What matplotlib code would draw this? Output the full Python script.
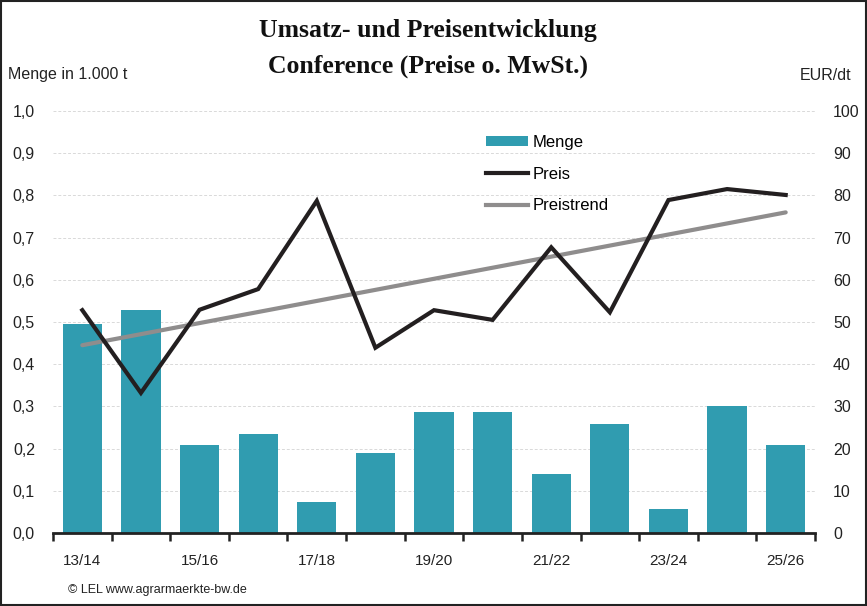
import numpy as np
import matplotlib
matplotlib.use("Agg")
import matplotlib.pyplot as plt
from matplotlib.patches import Patch
from matplotlib.lines import Line2D

seasons = ["13/14", "14/15", "15/16", "16/17", "17/18", "18/19", "19/20",
           "20/21", "21/22", "22/23", "23/24", "24/25", "25/26"]
menge = [0.495, 0.528, 0.208, 0.234, 0.073, 0.189, 0.286,
         0.286, 0.139, 0.258, 0.058, 0.300, 0.208]
preis = [52.8, 33.2, 52.9, 57.8, 78.7, 43.9, 52.8,
         50.5, 67.7, 52.3, 78.9, 81.5, 80.1]

left_ticks = [f"{v:.1f}".replace(".", ",") for v in np.arange(0, 1.01, 0.1)]
right_ticks = [str(v) for v in range(0, 101, 10)]

bar_color = "#309CB0"
line_color = "#231F20"
trend_color = "#8F8D8D"
sans = ["Liberation Sans", "DejaVu Sans"]
serif = ["Liberation Serif", "DejaVu Serif"]

plt.rcParams["font.family"] = sans

fig = plt.figure(figsize=(8.67, 6.06), dpi=100)
ax = fig.add_axes([53 / 867, 1 - 533 / 606, (815 - 53) / 867, (533 - 111) / 606])

x = np.arange(len(seasons))
ax.bar(x, menge, width=0.67, color=bar_color, zorder=2)
ax.set_xlim(-0.5, len(seasons) - 0.5)
ax.set_ylim(0, 1.0)
ax.set_yticks(np.arange(0, 1.01, 0.1))
ax.set_yticklabels(left_ticks, fontsize=11.5, color="#222222")
ax.yaxis.grid(True, color="#D9D9D9", linestyle=(0, (3, 2)), linewidth=0.7, zorder=0)
ax.set_axisbelow(True)
ax.tick_params(axis="y", length=0, pad=13)

ax.set_xticks(x[::2])
ax.set_xticklabels(seasons[::2], fontsize=11, color="#222222")
ax.set_xticks(np.arange(-0.5, len(seasons), 1.0), minor=True)
ax.tick_params(axis="x", which="major", length=0, pad=15)
ax.tick_params(axis="x", which="minor", length=6, width=1.8, color="#222222")

for s in ["top", "left", "right"]:
    ax.spines[s].set_visible(False)
ax.spines["bottom"].set_linewidth(2)
ax.spines["bottom"].set_color("#222222")

ax2 = ax.twinx()
ax2.set_ylim(0, 100)
ax2.set_yticks(range(0, 101, 10))
ax2.set_yticklabels(right_ticks, fontsize=11.5, color="#222222")
ax2.tick_params(axis="y", length=0, pad=13)
for s in ["top", "left", "right", "bottom"]:
    ax2.spines[s].set_visible(False)

# linear price trend
coef = np.polyfit(x, preis, 1)
trend = np.polyval(coef, x)
ax2.plot(x, trend, color=trend_color, linewidth=3, solid_capstyle="round", zorder=3)
ax2.plot(x, preis, color=line_color, linewidth=3, solid_joinstyle="miter", zorder=4)

handles = [Patch(facecolor=bar_color, label="Menge"),
           Line2D([], [], color=line_color, linewidth=3, label="Preis"),
           Line2D([], [], color=trend_color, linewidth=3, label="Preistrend")]
fig.legend(handles=handles, loc="upper left", bbox_to_anchor=(471 / 867, 1 - 120 / 606),
           frameon=False, fontsize=12, handlelength=2.5, handleheight=0.55,
           handletextpad=0.3, labelspacing=1.0)

fig.text(428 / 867, 1 - 31 / 606, "Umsatz- und Preisentwicklung", ha="center", va="center",
         fontsize=18.5, fontweight="bold", family=serif, color="#111111")
fig.text(428 / 867, 1 - 66 / 606, "Conference (Preise o. MwSt.)", ha="center", va="center",
         fontsize=18.5, fontweight="bold", family=serif, color="#111111")
fig.text(8 / 867, 1 - 75 / 606, "Menge in 1.000 t", ha="left", va="center", fontsize=11.5,
         color="#222222")
fig.text(851 / 867, 1 - 75 / 606, "EUR/dt", ha="right", va="center", fontsize=11.5,
         color="#222222")
fig.text(68 / 867, 1 - 590 / 606, "© LEL www.agrarmaerkte-bw.de", ha="left", va="center",
         fontsize=9, color="#222222")

fig.patches.append(plt.Rectangle((0.0008, 0.001), 0.9984, 0.998, transform=fig.transFigure,
                                 fill=False, edgecolor="#222222", linewidth=1.5))

fig.savefig("out.png", dpi=100)
